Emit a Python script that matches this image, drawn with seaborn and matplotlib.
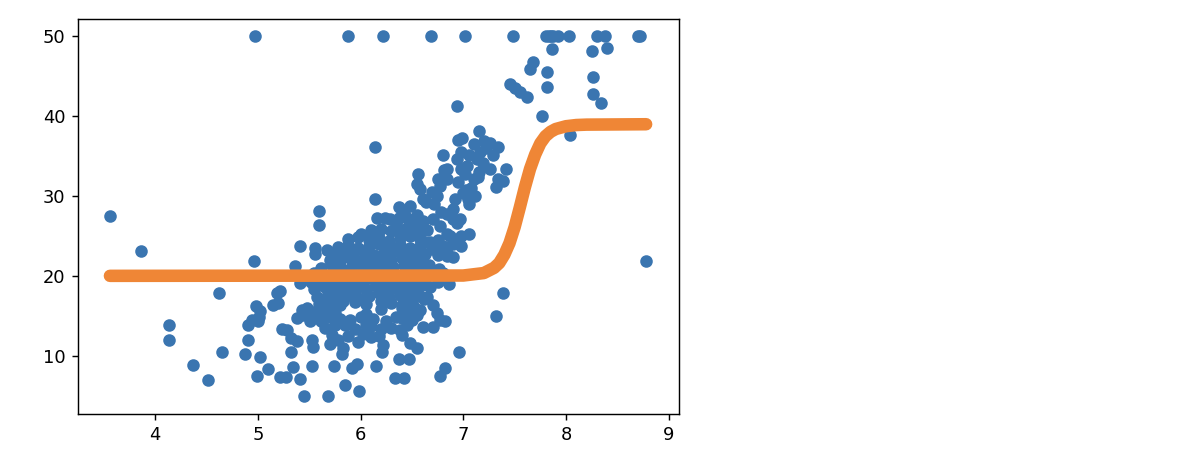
import matplotlib
matplotlib.use("Agg")
import matplotlib.pyplot as plt
import seaborn as sns

# ---------------- data ----------------
# censored values at MEDV = 50
rm_50 = [4.97, 5.875, 6.216, 6.683, 7.016, 7.489, 7.802, 7.831, 7.853, 7.875,
         7.923, 8.034, 8.297, 8.375, 8.704, 8.725]
medv_50 = [50.0] * 16

# upper right points
rm_hi = [7.86, 8.25, 8.40, 7.68, 7.645, 7.82, 8.26, 7.456, 7.505, 7.553,
         7.62, 7.82, 8.26, 8.34, 7.77, 8.04, 6.94, 6.143, 6.95, 6.99,
         7.155, 7.26, 7.34, 7.20]
medv_hi = [48.4, 48.2, 48.6, 46.8, 45.9, 45.6, 44.9, 44.0, 43.6, 43.0,
           42.4, 43.7, 42.8, 41.7, 40.0, 37.6, 41.3, 36.2, 37.0, 37.3,
           38.1, 36.7, 36.1, 36.9]

# diagonal band (25 - 36)
rm_band = [6.80, 6.98, 7.06, 7.16, 7.19, 7.29, 7.26, 7.42, 7.34, 7.32,
           7.39, 6.84, 6.98, 7.02, 7.10, 7.145, 6.56, 6.545, 6.58, 6.755,
           6.77, 7.03, 7.11, 7.06, 6.92, 6.90, 6.74, 6.61, 6.64, 6.37,
           6.42, 6.48, 6.285, 6.84, 6.90, 6.97, 6.51, 6.58, 6.71, 6.77,
           6.87, 6.98, 7.06, 6.98, 6.80, 6.84, 6.14, 5.60, 5.60, 6.16,
           6.24, 6.94, 7.035, 7.13, 6.81, 6.84, 7.00, 7.05, 6.94, 6.37,
           6.51, 6.61, 6.70, 6.72, 6.78, 6.95, 7.08, 7.15, 7.10, 7.22,
           6.35, 6.45, 6.55, 6.65, 6.45, 6.55, 6.75, 6.62]
medv_band = [35.2, 35.5, 35.1, 35.5, 34.2, 35.1, 33.4, 33.4, 32.1, 31.1,
             31.9, 33.4, 33.4, 32.8, 32.1, 32.4, 32.8, 31.5, 30.9, 32.1,
             31.3, 30.7, 30.0, 29.0, 29.6, 28.4, 30.0, 29.6, 29.2, 28.6,
             27.9, 28.8, 27.1, 27.7, 27.1, 27.1, 26.7, 26.2, 27.1, 26.2,
             25.0, 25.0, 25.2, 23.8, 23.7, 22.9, 29.6, 28.1, 26.4, 27.3,
             27.3, 34.6, 33.8, 34.6, 33.3, 32.1, 30.4, 29.6, 26.6, 27.3,
             26.5, 26.9, 30.5, 29.0, 28.0, 31.8, 31.0, 33.0, 36.5, 36.0,
             26.5, 26.0, 25.5, 25.8, 27.2, 27.6, 24.5, 24.2]

# left-hand and isolated points
rm_left = [3.561, 3.863, 4.963, 4.626, 4.138, 4.138, 4.368, 4.519, 4.652, 4.880,
           4.903, 4.90, 4.94, 5.01, 5.00, 4.98, 5.02, 5.02, 4.99, 5.10,
           5.145, 5.19, 5.235, 5.22, 8.78, 7.39, 7.32]
medv_left = [27.5, 23.1, 21.9, 17.9, 13.8, 11.9, 8.8, 7.0, 10.4, 10.2,
             11.9, 13.9, 14.5, 14.9, 14.3, 16.2, 15.6, 9.8, 7.5, 8.3,
             16.4, 17.8, 13.3, 7.3, 21.9, 17.8, 15.0]

# low values under the main cloud
rm_low = [5.28, 5.32, 5.38, 5.32, 5.27, 5.34, 5.41, 5.453, 5.683, 5.53,
          5.74, 5.85, 5.99, 5.92, 5.965, 6.15, 5.83, 5.82, 6.34, 6.42,
          6.37, 6.47, 6.55, 6.96, 6.775, 6.82, 6.21, 6.22, 5.53, 5.54]
medv_low = [13.2, 12.2, 11.8, 10.5, 7.3, 8.6, 7.1, 5.0, 5.0, 8.7,
            8.7, 6.3, 5.6, 8.5, 8.9, 8.7, 10.9, 10.2, 7.2, 7.2,
            9.6, 9.6, 11.0, 10.4, 7.5, 8.5, 10.5, 11.3, 12.0, 11.1]

# edges of the main cloud
rm_mid = [5.41, 5.36, 5.41, 5.215, 5.475, 5.44, 5.51, 5.56, 5.56, 5.67,
          5.38, 5.43, 5.20, 6.645, 6.71, 6.74, 6.775, 6.82, 6.71, 6.61,
          6.67, 6.90, 6.84, 6.90, 6.84]
medv_mid = [23.8, 21.2, 19.1, 18.1, 16.0, 15.1, 14.3, 23.5, 22.7, 23.3,
            14.7, 15.7, 16.6, 17.4, 16.4, 15.3, 14.5, 14.3, 13.6, 13.6,
            21.4, 22.3, 22.5, 24.0, 25.2]

# dense core of the cloud
rm_core = [
    6.00, 6.10, 6.20, 6.30, 6.40, 6.48,
    5.88, 5.98, 6.08, 6.18, 6.28, 6.38, 6.48, 6.58, 6.68,
    5.78, 5.88, 5.98, 6.08, 6.18, 6.28, 6.38, 6.48, 6.58, 6.70,
    5.73, 5.83, 5.93, 6.03, 6.13, 6.23, 6.33, 6.43, 6.53, 6.63, 6.75,
    5.70, 5.80, 5.90, 6.00, 6.10, 6.20, 6.30, 6.40, 6.50, 6.60,
    5.62, 5.72, 5.82, 5.92, 6.02, 6.12, 6.22, 6.32, 6.42, 6.52, 6.62, 6.76,
    5.55, 5.65, 5.75, 5.85, 5.95, 6.05, 6.15, 6.25, 6.35, 6.45, 6.55, 6.65, 6.80,
    5.52, 5.62, 5.72, 5.82, 5.92, 6.02, 6.12, 6.22, 6.32, 6.42, 6.52, 6.62, 6.75, 6.86,
    5.55, 5.65, 5.75, 5.85, 5.95, 6.05, 6.15, 6.25, 6.35, 6.45, 6.55, 6.68,
    5.58, 5.68, 5.78, 5.88, 5.98, 6.08, 6.18, 6.28, 6.38, 6.48, 6.58,
    5.60, 5.70, 5.80, 5.95, 6.05, 6.20, 6.30, 6.40, 6.50,
    5.55, 5.65, 5.75, 6.20, 6.45, 6.58,
    5.62, 5.70, 5.90, 6.00, 6.12, 6.25, 6.40, 6.50,
    5.65, 5.85, 5.95, 6.10, 6.30, 6.45,
    5.72, 5.88, 6.02, 6.18, 6.40,
    5.70, 5.98, 6.48,
]
medv_core = [
    25.3, 25.7, 25.9, 25.6, 25.8, 25.4,
    24.6, 24.9, 24.5, 24.8, 24.4, 24.7, 25.0, 24.6, 24.3,
    23.6, 23.9, 23.5, 23.8, 24.0, 23.6, 23.9, 23.5, 23.8, 23.4,
    22.8, 23.1, 22.7, 23.0, 22.6, 22.9, 23.1, 22.7, 23.0, 22.8, 22.6,
    22.0, 21.8, 22.2, 21.9, 22.1, 21.7, 22.0, 22.2, 21.8, 22.0,
    21.0, 21.3, 20.9, 21.2, 21.0, 21.4, 20.8, 21.1, 21.3, 20.9, 21.2, 20.9,
    20.3, 20.0, 20.4, 20.1, 19.9, 20.3, 20.0, 20.4, 20.1, 19.8, 20.2, 20.0, 20.3,
    19.2, 19.5, 19.1, 19.4, 19.0, 19.3, 19.6, 19.2, 19.4, 19.1, 19.3, 19.5, 19.2, 19.0,
    18.3, 18.6, 18.2, 18.5, 18.1, 18.4, 18.7, 18.3, 18.5, 18.2, 18.4, 18.6,
    17.4, 17.7, 17.3, 17.6, 17.2, 17.5, 17.8, 17.4, 17.6, 17.3, 17.5,
    16.5, 16.8, 16.4, 16.7, 16.5, 16.9, 16.6, 16.4, 16.7,
    15.5, 15.8, 15.4, 15.9, 15.5, 15.7,
    14.4, 14.8, 14.5, 14.9, 14.6, 14.3, 14.7, 14.5,
    13.5, 13.8, 13.4, 13.7, 13.5, 13.8,
    12.6, 12.4, 12.7, 12.5, 12.6,
    11.5, 11.7, 11.6,
]

# extra points filling the lower part of the cloud
rm_fill = [5.60, 5.80, 6.00, 6.20, 6.40, 6.60,
           5.63, 5.83, 6.03, 6.23, 6.43, 6.62,
           5.60, 5.70, 6.40, 6.52,
           5.60, 5.80, 6.05, 6.35, 6.55,
           5.75, 6.05, 6.20, 6.38,
           5.78, 6.10]
medv_fill = [18.9, 18.9, 18.8, 18.9, 18.8, 18.9,
             17.0, 16.9, 17.0, 17.1, 16.9, 17.1,
             16.0, 16.2, 16.0, 16.1,
             15.1, 14.6, 15.2, 14.9, 15.1,
             13.9, 13.9, 13.3, 13.2,
             12.0, 12.3]

# fitted curve
curve_rm = [3.561, 7.0, 7.2, 7.3, 7.35, 7.4, 7.45, 7.5, 7.55, 7.6,
            7.65, 7.7, 7.75, 7.8, 7.85, 7.9, 8.0, 8.1, 8.2, 8.78]
curve_medv = [20.0, 20.04, 20.35, 21.0, 21.6, 22.65, 24.1, 26.1, 28.55, 31.1,
              33.4, 35.2, 36.6, 37.5, 38.05, 38.4, 38.75, 38.9, 38.95, 39.0]

x_ticks = [4, 5, 6, 7, 8, 9]
y_ticks = [10, 20, 30, 40, 50]

BLUE = "#3a75b0"
ORANGE = "#ef8636"

rm = rm_50 + rm_hi + rm_band + rm_left + rm_low + rm_mid + rm_core + rm_fill
medv = (medv_50 + medv_hi + medv_band + medv_left + medv_low + medv_mid
        + medv_core + medv_fill)
assert len(rm) == len(medv)

# ---------------- figure ----------------
DPI = 129
W, H = 1178, 462
fig = plt.figure(figsize=(W / DPI, H / DPI), dpi=DPI)
fig.patch.set_facecolor("white")
ax = fig.add_axes([78 / W, 1 - 413.5 / H, (679 - 78) / W, (413.5 - 18.5) / H])

sns.scatterplot(x=rm, y=medv, ax=ax, color=BLUE, s=36, edgecolor=BLUE,
                linewidth=1, zorder=2)
sns.lineplot(x=curve_rm, y=curve_medv, ax=ax, color=ORANGE, linewidth=7,
             sort=False, estimator=None, solid_capstyle="round", zorder=3)

ax.set_xlim(3.25, 9.10)
ax.set_ylim(2.75, 52.25)
ax.set_xticks(x_ticks)
ax.set_yticks(y_ticks)
ax.set_xticklabels([str(t) for t in x_ticks])
ax.set_yticklabels([str(t) for t in y_ticks])
ax.set_xlabel("")
ax.set_ylabel("")

fig.savefig("out.png", dpi=DPI)
